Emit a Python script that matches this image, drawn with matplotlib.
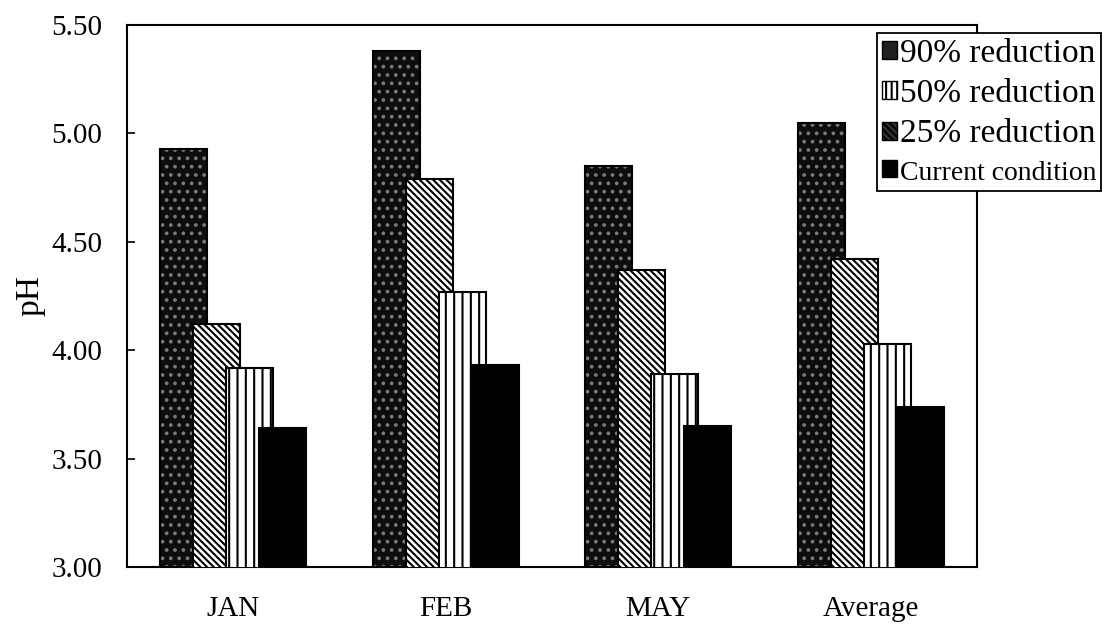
import matplotlib
matplotlib.use("Agg")  # Non-interactive backend
import matplotlib.pyplot as plt
import matplotlib.ticker as mticker
from matplotlib.patches import Patch
import numpy as np

# pH by month for each emission scenario
months = ["JAN", "FEB", "MAY", "Average"]
reduction_90 = [4.93, 5.38, 4.85, 5.05]
reduction_25 = [4.12, 4.79, 4.37, 4.42]
reduction_50 = [3.92, 4.27, 3.89, 4.03]
current_condition = [3.64, 3.93, 3.65, 3.74]
y_ticks = [3.0, 3.5, 4.0, 4.5, 5.0, 5.5]

INK = "black"
PAPER = "white"
DIAG = "\\" * 5
VERT = "||"

plt.rcParams["font.family"] = ["Liberation Serif", "DejaVu Serif"]
plt.rcParams["hatch.linewidth"] = 1.5

fig = plt.figure(figsize=(11.12, 6.27), dpi=100)
fig.patch.set_facecolor(PAPER)
ax = fig.add_axes([0.1142, 0.0957, 0.7644, 0.8643])

x = np.arange(len(months))
width = 0.22
step = 0.155

# 90% reduction: near-black bars with a faint speckle
ax.bar(x - 1.5 * step, reduction_90, width, color="#0d0d0d",
       edgecolor="#7a7a7a", hatch="..", linewidth=0, zorder=2)
ax.bar(x - 1.5 * step, reduction_90, width, fill=False,
       edgecolor=INK, linewidth=1.5, zorder=2.1)

# 25% reduction: dense diagonal hatch
ax.bar(x - 0.5 * step, reduction_25, width, color=PAPER,
       edgecolor=INK, hatch=DIAG, linewidth=1.5, zorder=3)

# 50% reduction: vertical lines
ax.bar(x + 0.5 * step, reduction_50, width, color=PAPER,
       edgecolor=INK, hatch=VERT, linewidth=1.5, zorder=4)

# current condition: solid black
ax.bar(x + 1.5 * step, current_condition, width, color=INK,
       edgecolor=INK, linewidth=1.5, zorder=5)

ax.set_xlim(-0.5, len(months) - 0.5)
ax.set_ylim(y_ticks[0], y_ticks[-1])
ax.set_xticks(x)
ax.set_xticklabels(months)
ax.set_yticks(y_ticks)
ax.yaxis.set_major_formatter(mticker.FormatStrFormatter("%.2f"))

ax.tick_params(axis="y", direction="in", length=6, width=1.2,
               labelsize=21, pad=18, colors=INK)
ax.tick_params(axis="x", length=0, labelsize=21, pad=21, colors=INK)
ax.set_ylabel("pH", fontsize=24, labelpad=4)

for spine in ax.spines.values():
    spine.set_linewidth(1.5)
    spine.set_color(INK)

handles = [
    Patch(facecolor="#202020", edgecolor=INK, linewidth=1),
    Patch(facecolor=PAPER, edgecolor=INK, hatch="|||", linewidth=1),
    Patch(facecolor="#303030", edgecolor=INK, hatch=DIAG, linewidth=1),
    Patch(facecolor=INK, edgecolor=INK, linewidth=1),
]
labels = ["90% reduction", "50% reduction", "25% reduction", "Current condition"]
leg = ax.legend(handles, labels, loc="upper left",
                bbox_to_anchor=(877 / 1112, 1 - 33 / 627),
                bbox_transform=fig.transFigure, fancybox=False,
                edgecolor=INK, framealpha=1, fontsize=24,
                handlelength=0.45, handleheight=0.45, handletextpad=0.08,
                borderpad=0.15, labelspacing=0.3, borderaxespad=0)
leg.get_frame().set_linewidth(1.3)
leg.get_texts()[3].set_fontsize(20)

fig.savefig("out.png", dpi=100, facecolor=PAPER)
plt.close(fig)
